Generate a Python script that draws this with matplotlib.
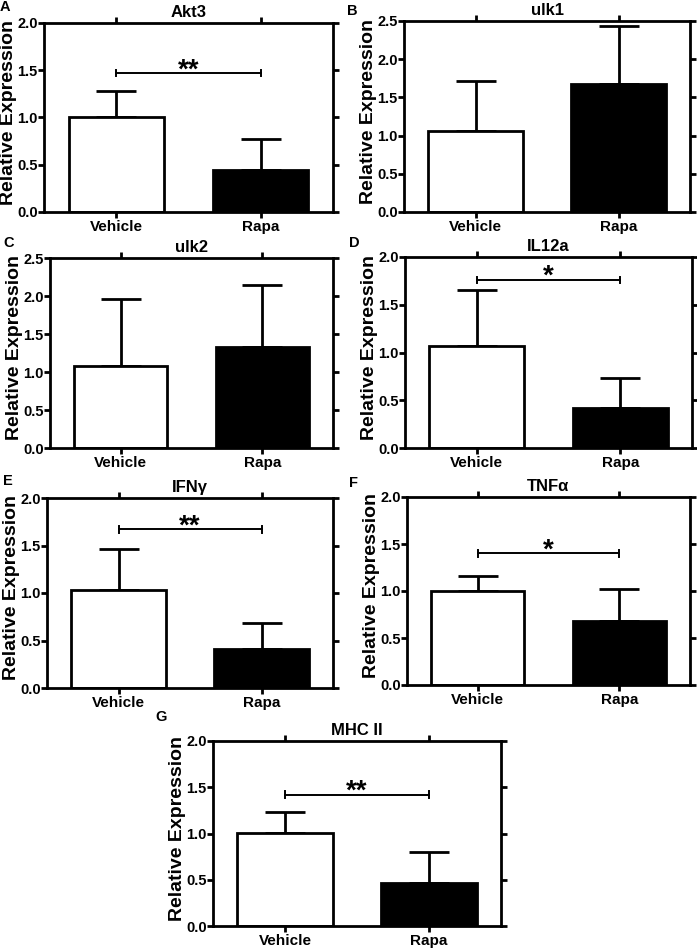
import matplotlib
matplotlib.use("Agg")
import matplotlib.pyplot as plt

plt.rcParams['font.family'] = ['Liberation Sans', 'DejaVu Sans']
plt.rcParams['font.weight'] = 'bold'

genes = ["Akt3", "ulk1", "ulk2", "IL12a", "IFNγ", "TNFα", "MHC II"]
panel_letters = ["A", "B", "C", "D", "E", "F", "G"]
groups = ["Vehicle", "Rapa"]
vehicle_mean = [1.01, 1.06, 1.08, 1.07, 1.03, 1.00, 1.01]
vehicle_err = [0.27, 0.65, 0.88, 0.58, 0.43, 0.16, 0.22]
rapa_mean = [0.44, 1.67, 1.33, 0.42, 0.41, 0.68, 0.46]
rapa_err = [0.33, 0.76, 0.81, 0.31, 0.27, 0.34, 0.34]
y_max = [2.0, 2.5, 2.5, 2.0, 2.0, 2.0, 2.0]
y_step = [0.5, 0.5, 0.5, 0.5, 0.5, 0.5, 0.5]
sig_label = ["**", None, None, "*", "**", "*", "**"]
sig_height = [1.47, None, None, 1.76, 1.67, 1.40, 1.42]

W, H = 697, 948
fig = plt.figure(figsize=(W / 100, H / 100), dpi=100)

# axes boxes in pixels: (left, right, top, bottom)
boxes = [
    (44, 333, 23, 212),
    (404, 690, 21, 212),
    (50, 333, 258, 448),
    (405, 692, 257, 448),
    (47, 333, 498, 688),
    (407, 690, 497, 685),
    (213, 501, 741, 926),
]
letter_pos = [(5, 7), (352, 11), (9, 243), (354, 243), (8, 481), (354, 483), (161, 717)]

lw = 2.0
for i in range(7):
    l, r, t, b = boxes[i]
    ax = fig.add_axes([l / W, 1 - b / H, (r - l) / W, (b - t) / H])
    x = [0, 1]
    means = [vehicle_mean[i], rapa_mean[i]]
    errs = [vehicle_err[i], rapa_err[i]]
    ax.errorbar(x, means, yerr=[[0, 0], errs], fmt='none', ecolor='black',
                elinewidth=lw, capsize=14.5, capthick=lw, zorder=1)
    ax.bar(x, means, width=0.66, color=['white', 'black'], edgecolor='black',
           linewidth=lw, zorder=2)
    ax.set_xlim(-0.5, 1.5)
    ax.set_ylim(0, y_max[i])
    ticks = [k * y_step[i] for k in range(int(round(y_max[i] / y_step[i])) + 1)]
    ax.set_yticks(ticks)
    ax.set_yticklabels([f"{v:.1f}" for v in ticks])
    ax.set_xticks(x)
    ax.set_xticklabels(groups)
    for s in ax.spines.values():
        s.set_linewidth(lw)
    ax.tick_params(axis='both', direction='out', width=lw, length=4,
                   top=True, right=True)
    ax.tick_params(axis='y', pad=0.5, labelsize=10.5)
    ax.tick_params(axis='x', pad=2, labelsize=11)
    for lab in ax.get_xticklabels() + ax.get_yticklabels():
        lab.set_fontweight('bold')
    fig.text((l - 35.5) / W, 1 - ((t + b) / 2 - 5) / H, "Relative Expression",
             rotation=90, ha='center', va='center', fontsize=14, fontweight='bold')
    ax.set_title(genes[i], fontsize=12, fontweight='bold', pad=4)
    if sig_label[i]:
        h = sig_height[i]
        ax.plot([0, 1], [h, h], color='black', lw=1.4, zorder=3)
        d = 0.035 * y_max[i] / 2.0
        ax.plot([0, 0], [h - d, h + d], color='black', lw=1.4)
        ax.plot([1, 1], [h - d, h + d], color='black', lw=1.4)
        ax.annotate(sig_label[i], xy=(0.5, h), xytext=(0, -3),
                    textcoords='offset points', ha='center', va='baseline',
                    fontsize=20, fontweight='bold')
    lx, ly = letter_pos[i]
    fig.text(lx / W, 1 - ly / H, panel_letters[i], fontsize=10.5, fontweight='bold',
             ha='center', va='center')

fig.savefig("out.png", dpi=100)
